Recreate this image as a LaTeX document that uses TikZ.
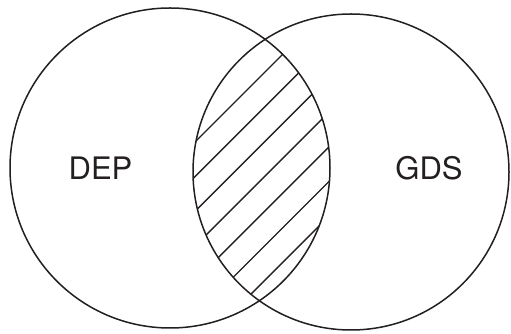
\documentclass[tikz,border=0pt]{standalone}
\usepackage{fontspec}
\setsansfont{TeX Gyre Heros}
\usetikzlibrary{positioning}
\definecolor{ink}{HTML}{231F20}
\tikzset{
  rim/.style={draw=ink, line width=1.5pt},
  hatchline/.style={draw=ink, line width=1.4pt},
  setlabel/.style={font=\sffamily\fontsize{31}{31}\selectfont, text=ink, inner sep=0pt}
}
\begin{document}
\begin{tikzpicture}[x=1pt,y=1pt]
  \useasboundingbox (0,0) rectangle (511,334);
  \coordinate (cdep) at (170,166);
  \coordinate (cgds) at (351,162);
  % hatching of the overlap
  \begin{scope}
    \clip (cdep) circle (160pt);
    \clip (cgds) circle (158pt);
    \foreach \k in {0,...,6}{
      \draw[hatchline] (3+34.7*\k,0) -- ++(334,334);
    }
  \end{scope}
  \draw[rim] (cdep) circle (160pt);
  \draw[rim] (cgds) circle (158pt);
  \node[setlabel] (dep) at (100.5,165.5) {DEP};
  \node[setlabel] (gds) at (429,165.5) {GDS};
\end{tikzpicture}
\end{document}
